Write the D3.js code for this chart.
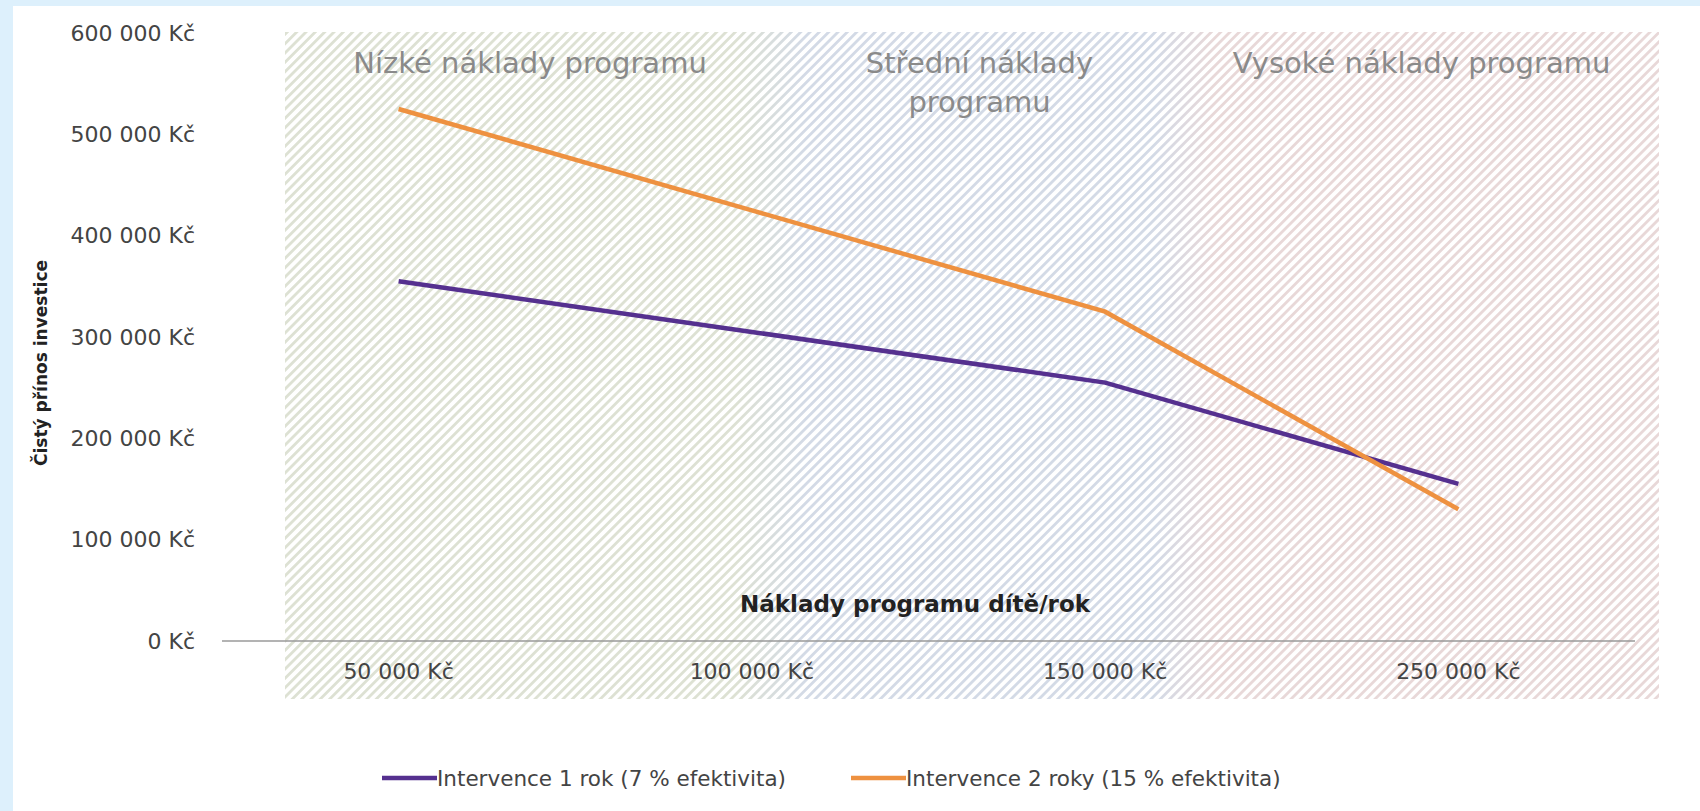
<!DOCTYPE html>
<html>

<head>
	<meta charset='utf-8'>
	<style>
		body {
			margin: 0;
			background-color: #ddf0fc;
		}

		svg {
			display: block;
		}

		text {
			font-family: 'DejaVu Sans', sans-serif;
		}
	</style>
</head>

<body>
	<svg></svg>
	<script src="https://d3js.org/d3.v7.min.js"></script>
	<script>
		var categories = ['50 000 Kč', '100 000 Kč', '150 000 Kč', '250 000 Kč'];
		var oneYear = [355000, 305000, 255000, 155000];
		var twoYears = [525000, 425000, 325000, 130000];
		var seriesNames = ['Intervence 1 rok (7 % efektivita)', 'Intervence 2 roky (15 % efektivita)'];
		var yTicks = [0, 100000, 200000, 300000, 400000, 500000, 600000];
		var zoneNames = [['Nízké náklady programu'], ['Střední náklady', 'programu'], ['Vysoké náklady programu']];

		var svg_width = 1700, svg_height = 811;
		var plotLeft = 222, plotRight = 1635, plotTop = 33, plotBottom = 641;
		var hatchTop = 32, hatchBottom = 699;
		var zoneEdges = [285, 775, 1184, 1659];
		var colors = ['#55308f', '#ee9140'];

		var svg = d3.select('svg').attr('width', svg_width).attr('height', svg_height);

		// white panel
		svg.append('rect').attr('x', 13).attr('y', 6).attr('width', svg_width - 13).attr('height', svg_height - 6).attr('fill', '#fff');

		var cz = d3.formatLocale({ decimal: ',', thousands: ' ', grouping: [3], currency: ['', ' Kč'] }).format('$,');

		var x_scale = d3.scaleBand().domain(categories).range([plotLeft, plotRight]);
		var y_scale = d3.scaleLinear().domain([0, 600000]).range([plotBottom, plotTop]);

		// hatched zones
		var defs = svg.append('defs');
		var pat = defs.append('pattern').attr('id', 'stripes').attr('patternUnits', 'userSpaceOnUse')
			.attr('width', 6.6).attr('height', 20).attr('patternTransform', 'rotate(45)');
		pat.append('rect').attr('width', 6.6).attr('height', 20).attr('fill', '#000');
		pat.append('rect').attr('width', 2.8).attr('height', 20).attr('fill', '#fff');
		var span = zoneEdges[3] - zoneEdges[0];
		defs.append('mask').attr('id', 'hatch').append('rect')
			.attr('x', zoneEdges[0]).attr('y', hatchTop).attr('width', span).attr('height', hatchBottom - hatchTop)
			.attr('fill', 'url(#stripes)');
		var grad = defs.append('linearGradient').attr('id', 'zonegrad').attr('gradientUnits', 'userSpaceOnUse')
			.attr('x1', zoneEdges[0]).attr('x2', zoneEdges[3]).attr('y1', 0).attr('y2', 0);
		[[0, '#dde1d3'], [(zoneEdges[1] - 40 - zoneEdges[0]) / span, '#dde1d3'], [(zoneEdges[1] + 30 - zoneEdges[0]) / span, '#d3dae6'],
		[(zoneEdges[2] - 30 - zoneEdges[0]) / span, '#d3dae6'], [(zoneEdges[2] + 30 - zoneEdges[0]) / span, '#e8d8d8'], [1, '#e8d8d8']]
			.forEach(function (s) { grad.append('stop').attr('offset', s[0]).attr('stop-color', s[1]); });
		svg.append('rect').attr('x', zoneEdges[0]).attr('y', hatchTop).attr('width', span).attr('height', hatchBottom - hatchTop)
			.attr('fill', 'url(#zonegrad)').attr('mask', 'url(#hatch)');

		// zone labels
		zoneNames.forEach(function (lines, i) {
			var cx = (zoneEdges[i] + zoneEdges[i + 1]) / 2;
			var t = svg.append('text').attr('x', cx).attr('y', 73)
				.attr('text-anchor', 'middle').attr('fill', '#8a8a8a').attr('font-size', 29);
			lines.forEach(function (l, j) { t.append('tspan').attr('x', cx).attr('dy', j ? 39 : 0).text(l); });
		});

		// axes
		var y_axis = d3.axisLeft(y_scale).tickValues(yTicks).tickFormat(cz).tickSize(0).tickPadding(27);
		var gy = svg.append('g').attr('transform', 'translate(' + plotLeft + ',0)').call(y_axis);
		gy.select('.domain').remove();
		gy.selectAll('text').attr('font-size', 22).attr('fill', '#444').style('font-family', 'DejaVu Sans');

		var x_axis = d3.axisBottom(x_scale).tickSize(0).tickPadding(22);
		var gx = svg.append('g').attr('transform', 'translate(0,' + plotBottom + ')').call(x_axis);
		gx.select('.domain').remove();
		gx.selectAll('text').attr('font-size', 22).attr('fill', '#444').style('font-family', 'DejaVu Sans');

		svg.append('line').attr('x1', plotLeft).attr('x2', plotRight).attr('y1', y_scale(0)).attr('y2', y_scale(0))
			.attr('stroke', '#9a9a9a').attr('stroke-width', 1.5);

		// axis titles
		svg.append('text').attr('x', 915).attr('y', 612).attr('text-anchor', 'middle').attr('font-weight', 'bold')
			.attr('font-size', 23).attr('fill', '#222').text('Náklady programu dítě/rok');
		svg.append('text').attr('transform', 'translate(47,363) rotate(-90)').attr('text-anchor', 'middle').attr('font-weight', 'bold')
			.attr('font-size', 17).attr('fill', '#222').text('Čistý přínos investice');

		// lines
		var line = d3.line().x(function (d, i) { return x_scale(categories[i]) + x_scale.bandwidth() / 2; }).y(function (d) { return y_scale(d); });
		[oneYear, twoYears].forEach(function (s, i) {
			svg.append('path').datum(s).attr('d', line).attr('fill', 'none').attr('stroke', colors[i]).attr('stroke-width', 4.5);
		});

		// legend
		var legendX = [382, 851];
		seriesNames.forEach(function (n, i) {
			var g = svg.append('g').attr('transform', 'translate(' + legendX[i] + ',778)');
			g.append('line').attr('x1', 0).attr('x2', 55).attr('stroke', colors[i]).attr('stroke-width', 4.5);
			g.append('text').attr('x', 55).attr('dy', '0.35em').attr('font-size', 21.5).attr('fill', '#444').text(n);
		});
	</script>
</body>

</html>
